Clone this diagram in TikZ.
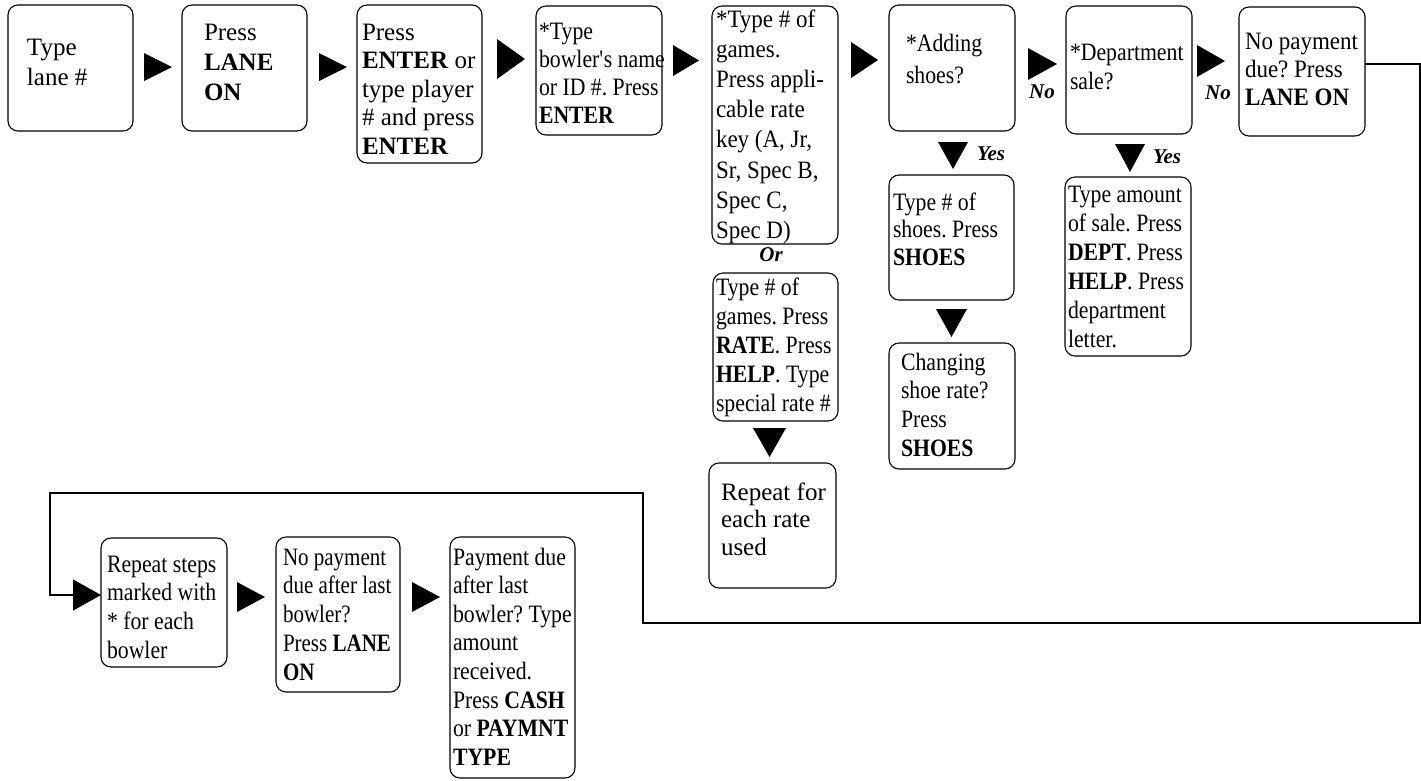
\documentclass[tikz,border=0pt]{standalone}
\usepackage{fontspec}
\setmainfont{Liberation Serif}
\newfontfamily\fA{Liberation Serif}
\newfontfamily\fB[FakeStretch=0.92]{Liberation Serif}
\newfontfamily\fC[FakeStretch=0.87]{Liberation Serif}
\newfontfamily\fD[FakeStretch=0.84]{Liberation Serif}
\usetikzlibrary{arrows.meta}
\frenchspacing
\newcommand\RT[4]{\fill (#1,#2) -- (#3,{(#2+#4)/2}) -- (#1,#4) -- cycle;}
\newcommand\DT[4]{\fill (#1,#2) -- (#3,#2) -- ({(#1+#3)/2},#4) -- cycle;}
\newcommand\nohy{\hyphenpenalty=10000\exhyphenpenalty=10000\frenchspacing\relax}
\tikzset{
  bx/.style n args={4}{draw, line width=1.1pt, rounded corners=10pt,
    anchor=north west, inner ysep=0pt, outer sep=0pt, align=flush left,
    inner xsep=#3, text width={#1-2*(#3)}, text height=#4, text depth={#2-(#4)}},
  lab/.style={font=\fA\fontsize{21}{21}\selectfont\bfseries\itshape, inner sep=0pt},
  conn/.style={line width=1.1pt},
}
\begin{document}
\begin{tikzpicture}[x=1pt,y=-1pt]
\useasboundingbox (0,0) rectangle (1421,780);
% top row
\node[bx={125}{126}{19}{50}, font=\fA\fontsize{25}{30}\selectfont\nohy] (b1) at (8,5) {\mbox{Type}\\\mbox{lane \#}};
\node[bx={125}{126}{22}{35}, font=\fA\fontsize{25}{30}\selectfont\nohy] (b2) at (182,5) {\mbox{Press}\\\mbox{\textbf{LANE}}\\\mbox{\textbf{ON}}};
\node[bx={125}{158}{5}{35}, font=\fA\fontsize{25}{28.5}\selectfont\nohy] (b3) at (357,5) {\mbox{Press}\\\mbox{\textbf{ENTER} or}\\\mbox{type player}\\\mbox{\# and press}\\\mbox{\textbf{ENTER}}};
\node[bx={126}{129}{3}{33}, font=\fC\fontsize{25}{28.3}\selectfont\nohy] (b4) at (536,6) {\mbox{*Type}\\\mbox{bowler\textquotesingle s name}\\\mbox{or ID \#. Press}\\\mbox{\textbf{ENTER}}};
\node[bx={126}{238}{4}{21}, font=\fB\fontsize{25}{30.2}\selectfont\nohy] (b5) at (712,6) {\mbox{*Type \# of}\\\mbox{games.}\\\mbox{Press appli-}\\\mbox{cable rate}\\\mbox{key (A, Jr,}\\\mbox{Sr, Spec B,}\\\mbox{Spec C,}\\\mbox{Spec D)}};
\node[bx={126}{126}{17}{46}, font=\fC\fontsize{25}{32}\selectfont\nohy] (b6) at (889,5) {\mbox{*Adding}\\\mbox{shoes?}};
\node[bx={126}{128}{4}{54}, font=\fC\fontsize{25}{29}\selectfont\nohy] (b7) at (1066,6) {\mbox{*Department}\\\mbox{sale?}};
\node[bx={126}{129}{6}{42}, font=\fB\fontsize{25}{28}\selectfont\nohy] (b8) at (1239,7) {\mbox{No payment}\\\mbox{due? Press}\\\mbox{\textbf{LANE ON}}};
% column under b5
\node[bx={125}{148}{3}{22}, font=\fC\fontsize{25}{29}\selectfont\nohy] (b5b) at (713,273) {\mbox{Type \# of}\\\mbox{games. Press}\\\mbox{\textbf{RATE}. Press}\\\mbox{\textbf{HELP}. Type}\\\mbox{special rate \#}};
\node[bx={127}{125}{12}{37}, font=\fA\fontsize{25}{27.5}\selectfont\nohy] (b5c) at (709,463) {\mbox{Repeat for}\\\mbox{each rate}\\\mbox{used}};
% column under b6
\node[bx={125}{125}{4}{35}, font=\fC\fontsize{25}{27.5}\selectfont\nohy] (b6b) at (889,175) {\mbox{Type \# of}\\\mbox{shoes. Press}\\\mbox{\textbf{SHOES}}};
\node[bx={126}{126}{12}{27}, font=\fC\fontsize{25}{28.7}\selectfont\nohy] (b6c) at (889,343) {\mbox{Changing}\\\mbox{shoe rate?}\\\mbox{Press}\\\mbox{\textbf{SHOES}}};
% column under b7
\node[bx={126}{179}{3}{25}, font=\fC\fontsize{25}{29}\selectfont\nohy] (b7b) at (1065,177) {\mbox{Type amount}\\\mbox{of sale. Press}\\\mbox{\textbf{DEPT}. Press}\\\mbox{\textbf{HELP}. Press}\\\mbox{department}\\\mbox{letter.}};
% bottom row
\node[bx={126}{129}{6}{34}, font=\fC\fontsize{25}{28.7}\selectfont\nohy] (r1) at (101,538) {\mbox{Repeat steps}\\\mbox{marked with}\\\mbox{* for each}\\\mbox{bowler}};
\node[bx={124}{155}{7}{28}, font=\fD\fontsize{25}{28.75}\selectfont\nohy] (r2) at (276,537) {\mbox{No payment}\\\mbox{due after last}\\\mbox{bowler?}\\\mbox{Press \textbf{LANE}}\\\mbox{\textbf{ON}}};
\node[bx={125}{241}{3}{28}, font=\fC\fontsize{25}{28.6}\selectfont\nohy] (r3) at (450,537) {\mbox{Payment due}\\\mbox{after last}\\\mbox{bowler? Type}\\\mbox{amount}\\\mbox{received.}\\\mbox{Press \textbf{CASH}}\\\mbox{or \textbf{PAYMNT}}\\\mbox{\textbf{TYPE}}};
% labels
\node[lab] (or) at (771,255) {Or};
\node[lab] (no1) at (1042,92) {No};
\node[lab] (no2) at (1218,93) {No};
\node[lab] (yes1) at (991,154) {Yes};
\node[lab] (yes2) at (1167,157) {Yes};
% triangles
\RT{144}{53}{172}{81}
\RT{319}{53}{347}{81}
\RT{497}{39}{525}{79}
\RT{673}{45}{699}{76}
\RT{851}{42}{878}{78}
\RT{1028}{48}{1057}{80}
\RT{1197}{45}{1225}{77}
\RT{237}{582}{265}{612}
\RT{412}{582}{440}{612}
\DT{753}{428}{786}{457}
\DT{938}{142}{968}{169}
\DT{936}{309}{967}{337}
\DT{1115}{144}{1145}{172}
% loop connector
\draw[conn, -{Triangle[length=28pt,width=31pt]}] (b8.east |- 0,64) -- (1420,64) -- (1420,623) -- (643,623) -- (643,493) -- (50,493) -- (50,595) -- (r1.west |- 0,595);
\end{tikzpicture}
\end{document}
